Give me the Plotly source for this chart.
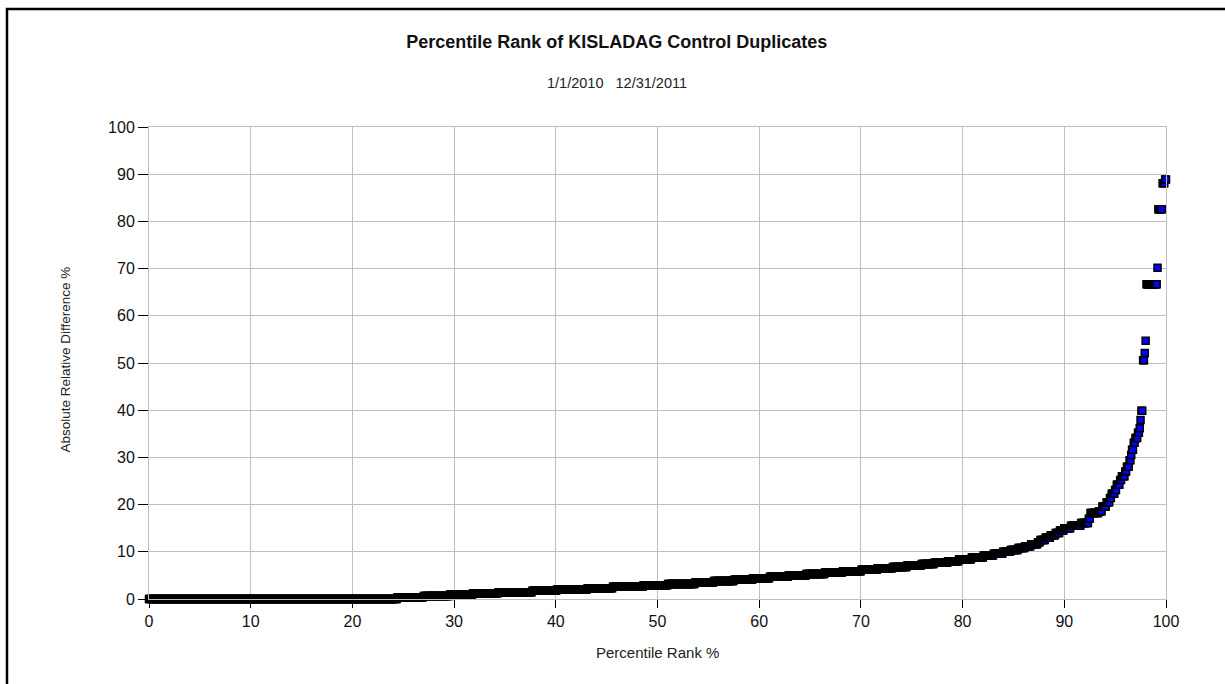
import numpy as np
import plotly.graph_objects as go

# Sorted absolute relative difference levels (%) and how many duplicate pairs share each level
diff_values = [0, 0.35, 0.65, 0.95, 1.2, 1.45, 1.75, 2.0, 2.3, 2.6, 2.9, 3.2, 3.5, 3.8, 4.1, 4.4,
               4.7, 5.0, 5.3, 5.6, 5.9, 6.2, 6.5, 6.8, 7.1, 7.4, 7.7, 8.0, 8.4, 8.8, 9.2, 9.6,
               10.0, 10.4, 10.8, 11.2, 11.6, 12.0, 12.5, 13.0, 13.5, 14.0, 14.5, 15.0, 15.5, 16.1,
               17.0, 18.2, 18.6, 19.6, 20.5, 21.4, 22.3, 23.1, 24.2, 25.2, 26.0, 27.0, 28.0, 29.4,
               30.5, 31.6, 33.1, 34.1, 35.2, 36.2, 37.9, 39.9, 50.6, 52.1, 54.7, 66.7, 70.2, 82.6,
               88.1, 88.9]
diff_counts = [293, 31, 31, 27, 30, 40, 29, 36, 30, 36, 29, 32, 22, 24, 22, 20,
               22, 21, 22, 21, 22, 19, 18, 17, 17, 15, 16, 13, 15, 14, 12, 11,
               9, 9, 8, 7, 8, 3, 6, 6, 6, 5, 5, 8, 12, 9,
               2, 10, 4, 5, 4, 2, 4, 2, 4, 2, 4, 2, 3, 2,
               1, 2, 2, 3, 2, 1, 1, 2, 2, 1, 1, 13, 1, 5,
               3, 2]

title_text = "Percentile Rank of KISLADAG Control Duplicates"
subtitle_text = "1/1/2010\u00a0\u00a0\u00a012/31/2011"
x_title = "Percentile Rank %"
y_title = "Absolute Relative Difference %"
tick_vals = list(range(0, 101, 10))

y = np.repeat(np.array(diff_values, dtype=float), diff_counts)
n = len(y)
x = np.arange(n) / (n - 1) * 100.0  # percentile rank

W, H = 1225, 684
L, R, T, B = 149, 59, 127, 85
pw, ph = W - L - R, H - T - B

def px(X):
    return (X - L) / pw

def py(Y):
    return (H - B - Y) / ph

font = "Liberation Sans, Arial, sans-serif"

fig = go.Figure()
fig.add_trace(go.Scatter(
    x=x, y=y, mode="markers",
    marker=dict(symbol="square", size=7, color="#0000FF",
                line=dict(color="black", width=1.5)),
    cliponaxis=False, showlegend=False, hoverinfo="x+y"))

axis_common = dict(
    range=[0, 100], tickvals=tick_vals, showgrid=True, gridcolor="#BFBFBF", gridwidth=1,
    zeroline=False, showline=True, linecolor="#BFBFBF", linewidth=1, mirror=True,
    ticks="outside", tickcolor="black", tickwidth=1,
    tickfont=dict(family=font, size=16, color="#111111"))

fig.update_layout(
    width=W, height=H,
    margin=dict(l=L, r=R, t=T, b=B, autoexpand=False),
    paper_bgcolor="white", plot_bgcolor="white",
    xaxis=dict(**axis_common, ticklen=8),
    yaxis=dict(**axis_common, ticklen=10),
    title=dict(text="<b>" + title_text + "</b>", x=0.5035, xanchor="center",
               y=1 - 42 / H, yanchor="middle",
               font=dict(family=font, size=18, color="#111111")),
    annotations=[
        dict(text=subtitle_text, x=px(617), y=py(83), xref="paper", yref="paper",
             showarrow=False, xanchor="center", yanchor="middle",
             font=dict(family=font, size=14.5, color="#222222")),
        dict(text=x_title, x=px(657), y=py(652), xref="paper", yref="paper",
             showarrow=False, xanchor="center", yanchor="middle",
             font=dict(family=font, size=15, color="#222222")),
        dict(text=y_title, x=px(64.5), y=py(360), xref="paper", yref="paper",
             showarrow=False, xanchor="center", yanchor="middle", textangle=-90,
             font=dict(family=font, size=13.5, color="#222222")),
    ],
    shapes=[
        dict(type="rect", xref="paper", yref="paper",
             x0=px(7), x1=px(1240), y0=py(700), y1=py(9),
             line=dict(color="black", width=2.5), fillcolor="rgba(0,0,0,0)", layer="above"),
    ],
)

fig.write_html("out.html")
